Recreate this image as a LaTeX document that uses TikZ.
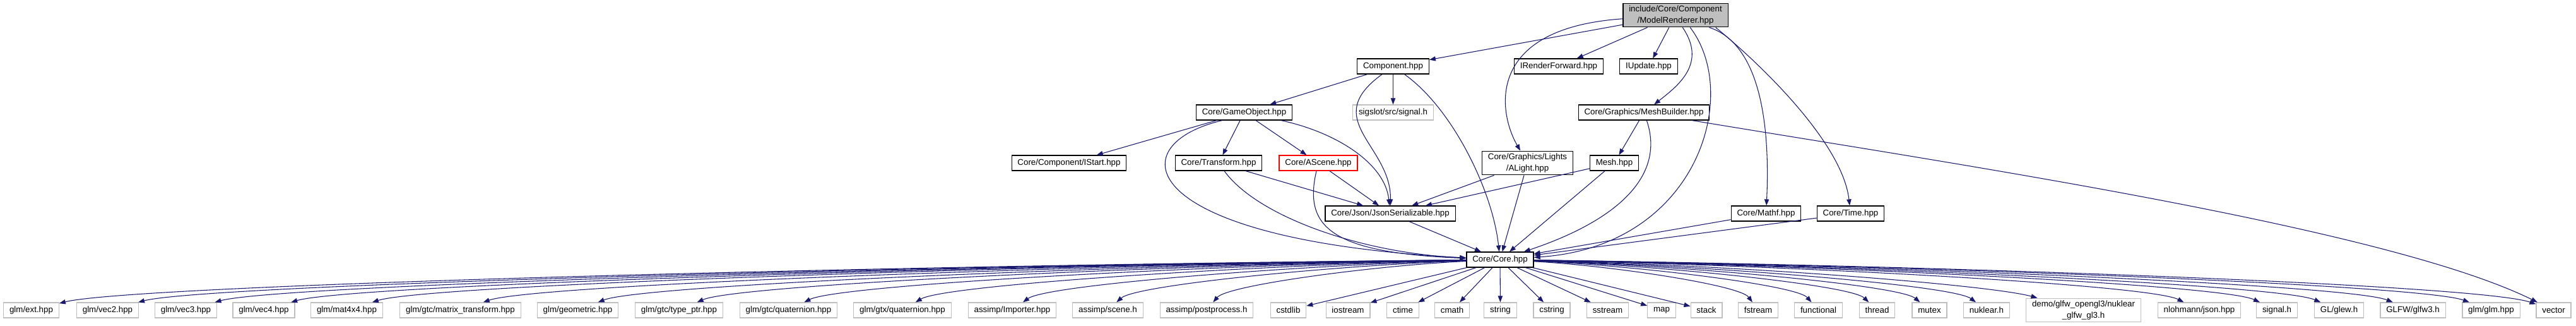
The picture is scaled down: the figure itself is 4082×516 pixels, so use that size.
\documentclass[tikz,border=0pt]{standalone}
\usepackage{fontspec}
\setmainfont{Liberation Sans}
\usetikzlibrary{arrows.meta}
\definecolor{midnightblue}{HTML}{191970}
\definecolor{grigio}{HTML}{BFBFBF}

\begin{document}
\begin{tikzpicture}[x=0.75pt, y=-0.75pt]
	% Stili per nodi e archi
	\tikzset{
		nodofile/.style={rectangle, draw=black, line width=0.9pt, fill=white, minimum height=18pt, inner xsep=7pt, inner ysep=3pt, align=center, font=\fontsize{10}{13}\selectfont},
		radice/.style={nodofile, fill=black!25},
		esterno/.style={nodofile, draw=grigio},
		troncato/.style={nodofile, draw=red},
		dip/.style={draw=midnightblue, line width=0.8pt, -{Triangle[length=7.5pt, width=5.5pt]}}
	}
	\useasboundingbox (0,0) rectangle (4082,516);

	% Nodi del progetto
	\node[radice] (main) at (2655,24) {include/Core/Component\\/ModelRenderer.hpp};
	\node[nodofile] (comp) at (2207.5,105) {Component.hpp};
	\node[nodofile] (irf) at (2470,105) {IRenderForward.hpp};
	\node[nodofile] (iupd) at (2612.5,105) {IUpdate.hpp};
	\node[nodofile] (go) at (1971.5,178) {Core/GameObject.hpp};
	\node[esterno] (sig) at (2207.5,178) {sigslot/src/signal.h};
	\node[nodofile] (mb) at (2605,178) {Core/Graphics/MeshBuilder.hpp};
	\node[nodofile] (istart) at (1694,258) {Core/Component/IStart.hpp};
	\node[nodofile] (transf) at (1931,258) {Core/Transform.hpp};
	\node[troncato] (ascene) at (2089,258) {Core/AScene.hpp};
	\node[nodofile] (alight) at (2420.5,258) {Core/Graphics/Lights\\/ALight.hpp};
	\node[nodofile] (mesh) at (2558,258) {Mesh.hpp};
	\node[nodofile] (json) at (2203,338) {Core/Json/JsonSerializable.hpp};
	\node[nodofile] (mathf) at (2798.5,338) {Core/Mathf.hpp};
	\node[nodofile] (time) at (2932.5,338) {Core/Time.hpp};
	\node[nodofile] (core) at (2377,411) {Core/Core.hpp};

	% Nodi esterni
	\node[esterno] (ext) at (49.5,491) {glm/ext.hpp};
	\node[esterno] (vec2) at (170.5,491) {glm/vec2.hpp};
	\node[esterno] (vec3) at (294.5,491) {glm/vec3.hpp};
	\node[esterno] (vec4) at (418,491) {glm/vec4.hpp};
	\node[esterno] (mat4) at (549.5,491) {glm/mat4x4.hpp};
	\node[esterno] (mtrans) at (729.5,491) {glm/gtc/matrix\_transform.hpp};
	\node[esterno] (geom) at (915.5,491) {glm/geometric.hpp};
	\node[esterno] (tptr) at (1076,491) {glm/gtc/type\_ptr.hpp};
	\node[esterno] (gtcq) at (1249.5,491) {glm/gtc/quaternion.hpp};
	\node[esterno] (gtxq) at (1430,491) {glm/gtx/quaternion.hpp};
	\node[esterno] (importer) at (1604,491) {assimp/Importer.hpp};
	\node[esterno] (scene) at (1755.5,491) {assimp/scene.h};
	\node[esterno] (postp) at (1912,491) {assimp/postprocess.h};
	\node[esterno] (cstdlib) at (2041.5,491) {cstdlib};
	\node[esterno] (iostream) at (2136,491) {iostream};
	\node[esterno] (ctime) at (2223,491) {ctime};
	\node[esterno] (cmath) at (2301,491) {cmath};
	\node[esterno] (string) at (2377.5,491) {string};
	\node[esterno] (cstring) at (2459,491) {cstring};
	\node[esterno] (sstream) at (2547.5,491) {sstream};
	\node[esterno] (map) at (2633,491) {map};
	\node[esterno] (stack) at (2704,491) {stack};
	\node[esterno] (fstream) at (2786,491) {fstream};
	\node[esterno] (functional) at (2881.5,491) {functional};
	\node[esterno] (thread) at (2974.5,491) {thread};
	\node[esterno] (mutex) at (3057.5,491) {mutex};
	\node[esterno] (nuklear) at (3148,491) {nuklear.h};
	\node[esterno] (demo) at (3301.5,491) {demo/glfw\_opengl3/nuklear\\\_glfw\_gl3.h};
	\node[esterno] (nlohmann) at (3485,491) {nlohmann/json.hpp};
	\node[esterno] (signal) at (3608,491) {signal.h};
	\node[esterno] (glew) at (3706.5,491) {GL/glew.h};
	\node[esterno] (glfw) at (3823.5,491) {GLFW/glfw3.h};
	\node[esterno] (glmglm) at (3947.5,491) {glm/glm.hpp};
	\node[esterno] (vector) at (4046.5,491) {vector};

	% Archi dal file principale
	\draw[dip] (main) -- (comp);
	\draw[dip] (main) -- (irf);
	\draw[dip] (main) -- (iupd);
	\draw[dip] (main.-60) .. controls (2705,100) and (2660,135) .. (mb);
	\draw[dip] (main) .. controls (2350,45) and (2375,180) .. (alight);
	\draw[dip] (main.-40) .. controls (2760,150) and (2690,390) .. (core);
	\draw[dip] (main.-20) .. controls (2790,70) and (2805,200) .. (mathf);
	\draw[dip] (main.-17) .. controls (2800,110) and (2920,230) .. (time);

	% Archi intermedi
	\draw[dip] (comp) -- (go);
	\draw[dip] (comp) -- (sig);
	\draw[dip] (comp) .. controls (2090,190) and (2205,230) .. (json);
	\draw[dip] (comp) .. controls (2300,170) and (2365,300) .. (core);
	\draw[dip] (go) -- (istart);
	\draw[dip] (go) -- (transf);
	\draw[dip] (go) -- (ascene);
	\draw[dip] (go) .. controls (2120,210) and (2195,260) .. (json);
	\draw[dip] (go.-160) .. controls (1770,230) and (1800,380) .. (core);
	\draw[dip] (transf) -- (json);
	\draw[dip] (transf) .. controls (1990,340) and (2150,400) .. (core);
	\draw[dip] (ascene) -- (json);
	\draw[dip] (ascene) .. controls (2065,360) and (2110,400) .. (core);
	\draw[dip] (alight) -- (json);
	\draw[dip] (alight) -- (core);
	\draw[dip] (mesh) -- (json);
	\draw[dip] (mesh) -- (core);
	\draw[dip] (mb) -- (mesh);
	\draw[dip] (mb) .. controls (2640,280) and (2560,350) .. (core);
	\draw[dip] (mb) .. controls (3100,260) and (3780,360) .. (vector);
	\draw[dip] (json) -- (core);
	\draw[dip] (mathf) -- (core);
	\draw[dip] (time) -- (core);

	% Archi da Core/Core.hpp verso le librerie
	\draw[dip] (core) .. controls +(-978,9) and +(163,-40) .. (ext);
	\draw[dip] (core) .. controls +(-927,9) and +(154,-40) .. (vec2);
	\draw[dip] (core) .. controls +(-875,9) and +(146,-40) .. (vec3);
	\draw[dip] (core) .. controls +(-823,9) and +(137,-40) .. (vec4);
	\draw[dip] (core) .. controls +(-768,9) and +(128,-40) .. (mat4);
	\draw[dip] (core) .. controls +(-692,9) and +(115,-40) .. (mtrans);
	\draw[dip] (core) .. controls +(-614,9) and +(102,-40) .. (geom);
	\draw[dip] (core) .. controls +(-546,9) and +(91,-40) .. (tptr);
	\draw[dip] (core) .. controls +(-474,9) and +(79,-40) .. (gtcq);
	\draw[dip] (core) .. controls +(-398,9) and +(66,-40) .. (gtxq);
	\draw[dip] (core) .. controls +(-325,9) and +(54,-40) .. (importer);
	\draw[dip] (core) .. controls +(-261,9) and +(44,-40) .. (scene);
	\draw[dip] (core) .. controls +(-195,9) and +(33,-40) .. (postp);
	\draw[dip] (core) -- (cstdlib);
	\draw[dip] (core) -- (iostream);
	\draw[dip] (core) -- (ctime);
	\draw[dip] (core) -- (cmath);
	\draw[dip] (core) -- (string);
	\draw[dip] (core) -- (cstring);
	\draw[dip] (core) -- (sstream);
	\draw[dip] (core) -- (map);
	\draw[dip] (core) -- (stack);
	\draw[dip] (core) .. controls +(172,9) and +(-29,-40) .. (fstream);
	\draw[dip] (core) .. controls +(212,9) and +(-35,-40) .. (functional);
	\draw[dip] (core) .. controls +(251,9) and +(-42,-40) .. (thread);
	\draw[dip] (core) .. controls +(286,9) and +(-48,-40) .. (mutex);
	\draw[dip] (core) .. controls +(324,9) and +(-54,-40) .. (nuklear);
	\draw[dip] (core) .. controls +(388,9) and +(-150,-40) .. (demo);
	\draw[dip] (core) .. controls +(465,9) and +(-78,-40) .. (nlohmann);
	\draw[dip] (core) .. controls +(517,9) and +(-86,-40) .. (signal);
	\draw[dip] (core) .. controls +(558,9) and +(-93,-40) .. (glew);
	\draw[dip] (core) .. controls +(608,9) and +(-101,-40) .. (glfw);
	\draw[dip] (core) .. controls +(660,9) and +(-110,-40) .. (glmglm);
	\draw[dip] (core) .. controls +(701,9) and +(-117,-40) .. (vector);
\end{tikzpicture}
\end{document}
